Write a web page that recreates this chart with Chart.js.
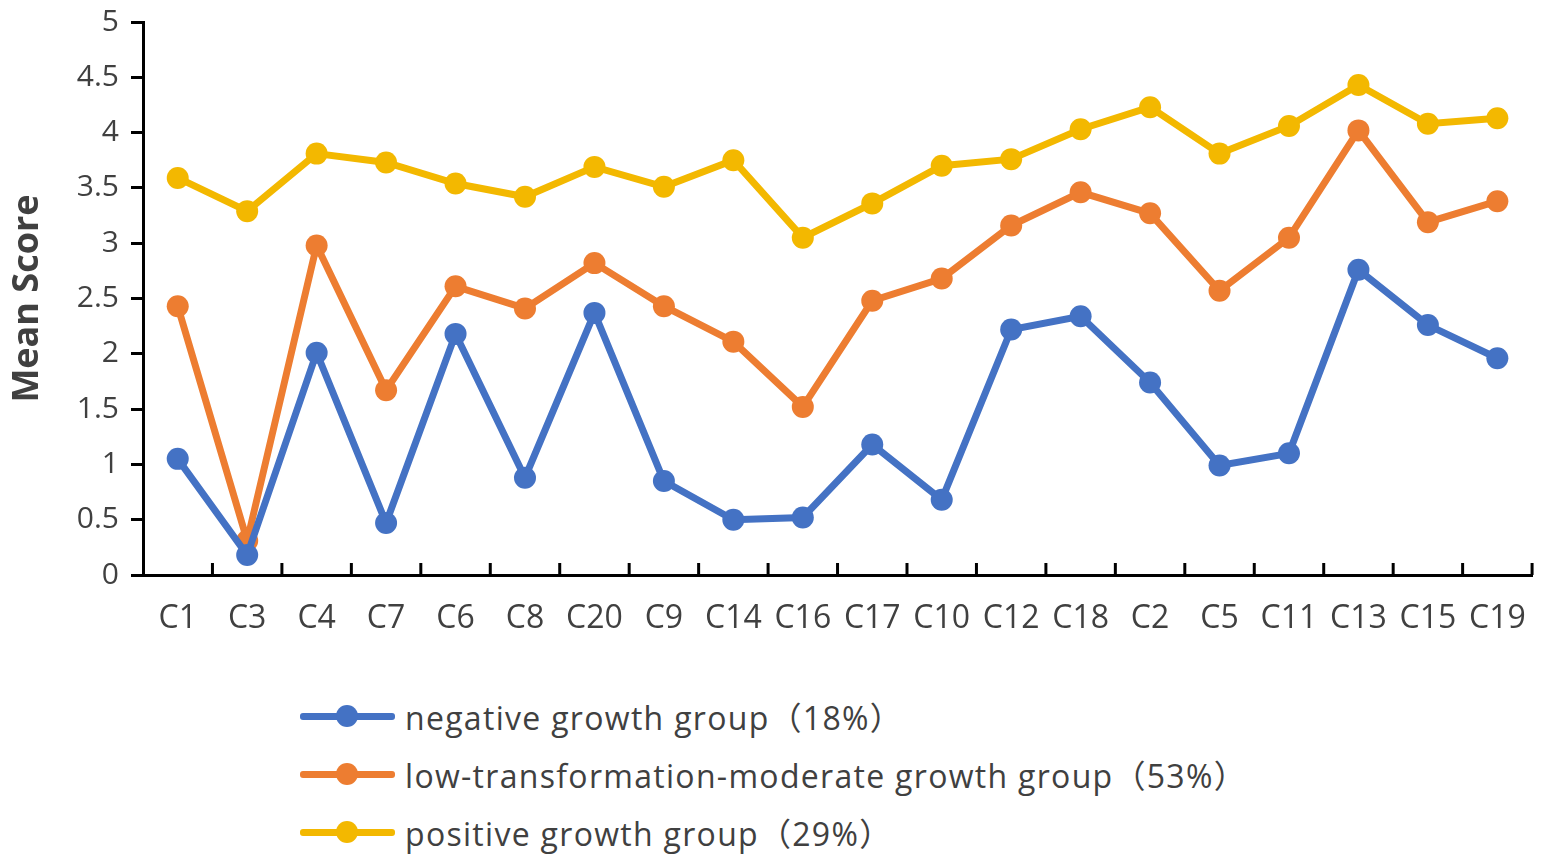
<!DOCTYPE html>
<html>
<head>
<meta charset="utf-8">
<script src="https://cdn.jsdelivr.net/npm/chart.js@4"></script>
<style>
  html, body { margin:0; padding:0; background:#fff; overflow:hidden; }
  #wrap { position:relative; width:1541px; height:861px; overflow:hidden; }
  #cw { position:absolute; left:0; top:-8px; width:1551px; height:678px; }
  #legend { position:absolute; left:300px; top:687px; font-family:"Open Sans", "Noto Sans CJK SC", sans-serif; font-size:32px; letter-spacing:1.3px; color:#404040; }
  .item { position:relative; height:58px; display:flex; align-items:center; }
  .sym { position:relative; width:95px; height:26px; margin-right:10px; flex:none; }
  .sym .ln { position:absolute; left:0; top:9.5px; width:95px; height:7px; border-radius:3px; }
  .sym .dt { position:absolute; left:36px; top:2px; width:22px; height:22px; border-radius:50%; }
</style>
</head>
<body>
<div id="wrap">
  <div id="cw"><canvas id="c"></canvas></div>
  <div id="legend"></div>
</div>
<script>
const categories = ["C1","C3","C4","C7","C6","C8","C20","C9","C14","C16","C17","C10","C12","C18","C2","C5","C11","C13","C15","C19"];
const seriesNames = ["negative growth group\uFF0818%\uFF09","low-transformation-moderate growth group\uFF0853%\uFF09","positive growth group\uFF0829%\uFF09"];
const negativeGroup = [1.05,0.18,2.01,0.47,2.18,0.88,2.37,0.85,0.50,0.52,1.18,0.68,2.22,2.34,1.74,0.99,1.10,2.76,2.26,1.96];
const moderateGroup = [2.43,0.31,2.98,1.67,2.61,2.41,2.82,2.43,2.11,1.52,2.48,2.68,3.16,3.46,3.27,2.57,3.05,4.02,3.19,3.38];
const positiveGroup = [3.59,3.29,3.81,3.73,3.54,3.42,3.69,3.51,3.75,3.05,3.36,3.70,3.76,4.03,4.23,3.81,4.06,4.43,4.08,4.13];
const yTicks = [0,0.5,1,1.5,2,2.5,3,3.5,4,4.5,5];
const colors = ["#4472C4","#ED7D31","#F3B800"];

const FONT = '"Open Sans", sans-serif';
const TXT = '#404040';

const innerTicks = {
  id:'innerTicks',
  afterDraw(chart){
    const x = chart.scales.x, ctx = chart.ctx;
    ctx.save();
    ctx.strokeStyle = '#000'; ctx.lineWidth = 3;
    for (let i = 1; i <= categories.length; i++) {
      const px = x.getPixelForValue(i - 0.5);
      ctx.beginPath(); ctx.moveTo(px, x.top); ctx.lineTo(px, x.top - 12); ctx.stroke();
    }
    ctx.restore();
  }
};

const data = [negativeGroup, moderateGroup, positiveGroup];
const chart = new Chart(document.getElementById('c'), {
  type:'line',
  data:{
    labels: categories,
    datasets: data.map((d,i)=>({
      label: seriesNames[i], data: d,
      borderColor: colors[i], backgroundColor: colors[i],
      borderWidth: 7, pointRadius: 11, pointHoverRadius: 11,
      pointBorderWidth: 0, tension: 0, fill:false
    }))
  },
  options:{
    responsive:true, maintainAspectRatio:false, animation:false,
    layout:{ padding:{ top:12, right:0, bottom:0, left:0 } },
    plugins:{ legend:{ display:false }, tooltip:{ enabled:false } },
    scales:{
      x:{
        offset:true,
        grid:{ display:true, drawOnChartArea:false, drawTicks:false, offset:true, color:'rgba(0,0,0,0)' },
        border:{ display:true, color:'#000', width:3 },
        ticks:{ color:TXT, font:{ family:FONT, size:32 }, padding:25, autoSkip:false, maxRotation:0 },
        afterFit(s){ s.height = 95; }
      },
      y:{
        min:0, max:5,
        afterBuildTicks(s){ s.ticks = yTicks.map(v=>({value:v})); },
        grid:{ drawOnChartArea:false, drawTicks:true, tickLength:12, tickColor:'#000', tickWidth:3 },
        border:{ display:true, color:'#000', width:3 },
        ticks:{ color:TXT, font:{ family:FONT, size:30 }, padding:12, callback:(v)=>String(v) },
        title:{ display:true, text:'Mean Score', color:TXT, font:{ family:FONT, size:36, weight:'bold' }, padding:{ top:6, bottom:0 } },
        afterFit(s){ s.width = 143; }
      }
    }
  },
  plugins:[innerTicks]
});

const lg = document.getElementById('legend');
seriesNames.forEach((n,i)=>{
  const it = document.createElement('div'); it.className='item';
  it.innerHTML = '<div class="sym"><div class="ln" style="background:'+colors[i]+'"></div><div class="dt" style="background:'+colors[i]+'"></div></div><span>'+n+'</span>';
  lg.appendChild(it);
});
</script>
</body>
</html>
